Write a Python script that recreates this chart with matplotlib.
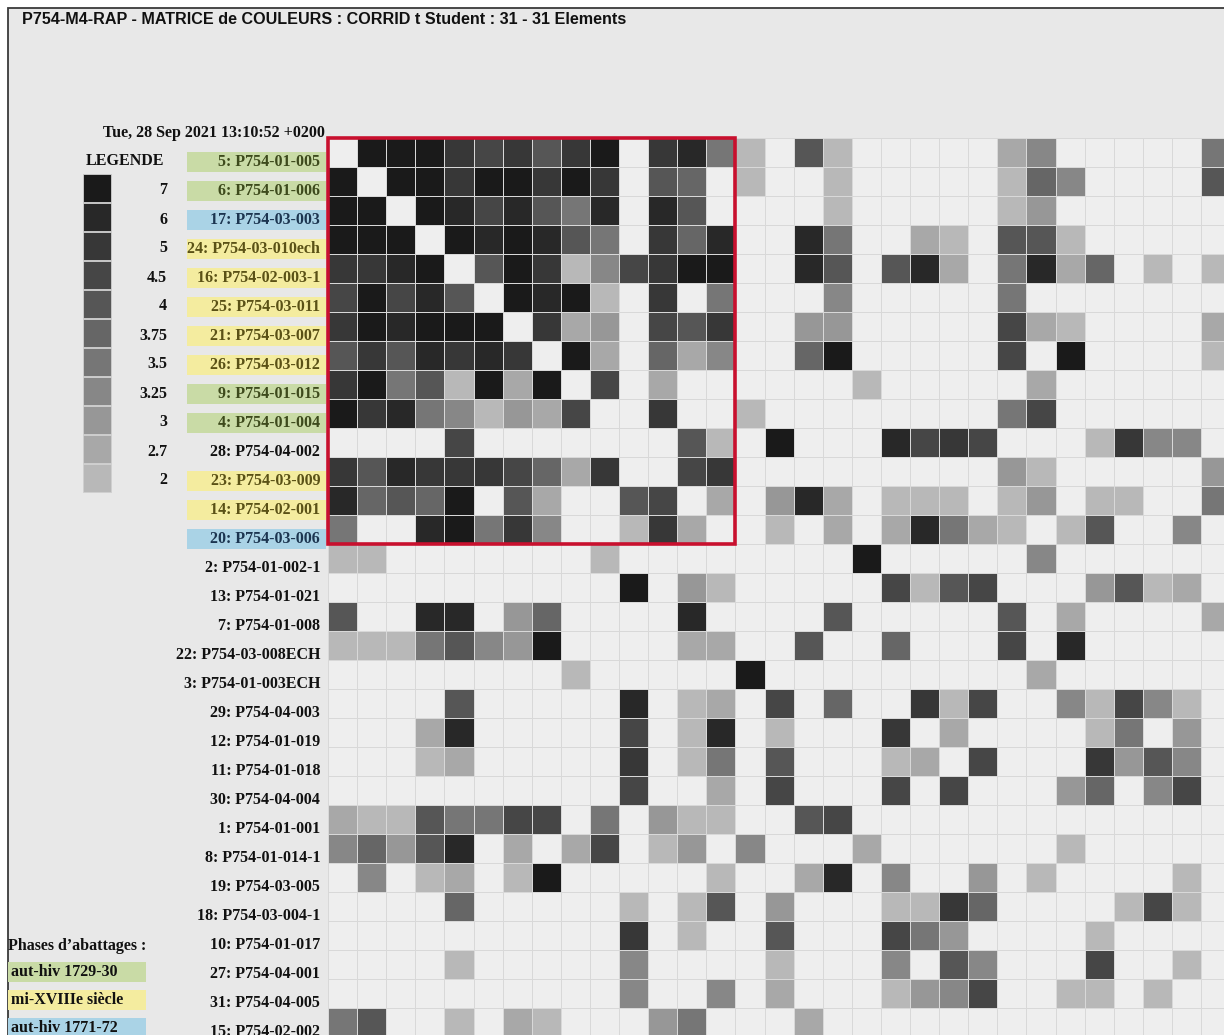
import numpy as np
import matplotlib.pyplot as plt
from matplotlib.colors import ListedColormap
from matplotlib.patches import Rectangle

W, H = 1224, 1035

title = "P754-M4-RAP - MATRICE de COULEURS : CORRID t Student : 31 - 31 Elements"
date_txt = "Tue, 28 Sep 2021 13:10:52 +0200"

row_labels = ["5: P754-01-005", "6: P754-01-006", "17: P754-03-003",
              "24: P754-03-010ech", "16: P754-02-003-1", "25: P754-03-011",
              "21: P754-03-007", "26: P754-03-012", "9: P754-01-015",
              "4: P754-01-004", "28: P754-04-002", "23: P754-03-009",
              "14: P754-02-001", "20: P754-03-006", "2: P754-01-002-1",
              "13: P754-01-021", "7: P754-01-008", "22: P754-03-008ECH",
              "3: P754-01-003ECH", "29: P754-04-003", "12: P754-01-019",
              "11: P754-01-018", "30: P754-04-004", "1: P754-01-001",
              "8: P754-01-014-1", "19: P754-03-005", "18: P754-03-004-1",
              "10: P754-01-017", "27: P754-04-001", "31: P754-04-005",
              "15: P754-02-002"]
# phase of each row: g = aut-hiv 1729-30, y = mi-XVIIIe, b = aut-hiv 1771-72
row_phase = ['g', 'g', 'b', 'y', 'y', 'y', 'y', 'y', 'g', 'g', '', 'y', 'y', 'b',
             '', '', '', '', '', '', '', '', '', '', '', '', '', '', '', '', '']

phase_names = ["aut-hiv 1729-30", "mi-XVIIIe siècle", "aut-hiv 1771-72"]
phase_keys = ['g', 'y', 'b']

# legend levels (top to bottom)
legend_levels = ["7", "6", "5", "4.5", "4", "3.75", "3.5", "3.25", "3", "2.7", "2"]
level_values = [7, 6, 5, 4.5, 4, 3.75, 3.5, 3.25, 3, 2.7, 2]

# t Student class of each cell (0 = empty)
corr_rows = [
    [0, 7, 7, 7, 5, 4.5, 5, 4, 5, 7, 0, 5, 6, 3.5, 2, 0, 4, 2, 0, 0, 0, 0, 0, 2.7, 3.25, 0, 0, 0, 0, 0, 3.5],
    [7, 0, 7, 7, 5, 7, 7, 5, 7, 5, 0, 4, 3.75, 0, 2, 0, 0, 2, 0, 0, 0, 0, 0, 2, 3.75, 3.25, 0, 0, 0, 0, 4],
    [7, 7, 0, 7, 6, 4.5, 6, 4, 3.5, 6, 0, 6, 4, 0, 0, 0, 0, 2, 0, 0, 0, 0, 0, 2, 3, 0, 0, 0, 0, 0, 0],
    [7, 7, 7, 0, 7, 6, 7, 6, 4, 3.5, 0, 5, 3.75, 6, 0, 0, 6, 3.5, 0, 0, 2.7, 2, 0, 4, 4, 2, 0, 0, 0, 0, 0],
    [5, 5, 6, 7, 0, 4, 7, 5, 2, 3.25, 4.5, 5, 7, 7, 0, 0, 6, 4, 0, 4, 6, 2.7, 0, 3.5, 6, 2.7, 3.75, 0, 2, 0, 2],
    [4.5, 7, 4.5, 6, 4, 0, 7, 6, 7, 2, 0, 5, 0, 3.5, 0, 0, 0, 3.25, 0, 0, 0, 0, 0, 3.5, 0, 0, 0, 0, 0, 0, 0],
    [5, 7, 6, 7, 7, 7, 0, 5, 2.7, 3, 0, 4.5, 4, 5, 0, 0, 3, 3, 0, 0, 0, 0, 0, 4.5, 2.7, 2, 0, 0, 0, 0, 2.7],
    [4, 5, 4, 6, 5, 6, 5, 0, 7, 2.7, 0, 3.75, 2.7, 3.25, 0, 0, 3.75, 7, 0, 0, 0, 0, 0, 4.5, 0, 7, 0, 0, 0, 0, 2],
    [5, 7, 3.5, 4, 2, 7, 2.7, 7, 0, 4.5, 0, 2.7, 0, 0, 0, 0, 0, 0, 2, 0, 0, 0, 0, 0, 2.7, 0, 0, 0, 0, 0, 0],
    [7, 5, 6, 3.5, 3.25, 2, 3, 2.7, 4.5, 0, 0, 5, 0, 0, 2, 0, 0, 0, 0, 0, 0, 0, 0, 3.5, 4.5, 0, 0, 0, 0, 0, 0],
    [0, 0, 0, 0, 4.5, 0, 0, 0, 0, 0, 0, 0, 4, 2, 0, 7, 0, 0, 0, 6, 4.5, 5, 4.5, 0, 0, 0, 2, 5, 3.25, 3.25, 0],
    [5, 4, 6, 5, 5, 5, 4.5, 3.75, 2.7, 5, 0, 0, 4.5, 5, 0, 0, 0, 0, 0, 0, 0, 0, 0, 3, 2, 0, 0, 0, 0, 0, 3],
    [6, 3.75, 4, 3.75, 7, 0, 4, 2.7, 0, 0, 4, 4.5, 0, 2.7, 0, 3, 6, 2.7, 0, 2, 2, 2, 0, 2, 3, 0, 2, 2, 0, 0, 3.5],
    [3.5, 0, 0, 6, 7, 3.5, 5, 3.25, 0, 0, 2, 5, 2.7, 0, 0, 2, 0, 2.7, 0, 2.7, 6, 3.5, 2.7, 2, 0, 2, 4, 0, 0, 3.25, 0],
    [2, 2, 0, 0, 0, 0, 0, 0, 0, 2, 0, 0, 0, 0, 0, 0, 0, 0, 7, 0, 0, 0, 0, 0, 3.25, 0, 0, 0, 0, 0, 0],
    [0, 0, 0, 0, 0, 0, 0, 0, 0, 0, 7, 0, 3, 2, 0, 0, 0, 0, 0, 4.5, 2, 4, 4.5, 0, 0, 0, 3, 4, 2, 2.7, 0],
    [4, 0, 0, 6, 6, 0, 3, 3.75, 0, 0, 0, 0, 6, 0, 0, 0, 0, 4, 0, 0, 0, 0, 0, 4, 0, 2.7, 0, 0, 0, 0, 2.7],
    [2, 2, 2, 3.5, 4, 3.25, 3, 7, 0, 0, 0, 0, 2.7, 2.7, 0, 0, 4, 0, 0, 3.75, 0, 0, 0, 4.5, 0, 6, 0, 0, 0, 0, 0],
    [0, 0, 0, 0, 0, 0, 0, 0, 2, 0, 0, 0, 0, 0, 7, 0, 0, 0, 0, 0, 0, 0, 0, 0, 2.7, 0, 0, 0, 0, 0, 0],
    [0, 0, 0, 0, 4, 0, 0, 0, 0, 0, 6, 0, 2, 2.7, 0, 4.5, 0, 3.75, 0, 0, 5, 2, 4.5, 0, 0, 3.25, 2, 4.5, 3.25, 2, 0],
    [0, 0, 0, 2.7, 6, 0, 0, 0, 0, 0, 4.5, 0, 2, 6, 0, 2, 0, 0, 0, 5, 0, 2.7, 0, 0, 0, 0, 2, 3.5, 0, 3, 0],
    [0, 0, 0, 2, 2.7, 0, 0, 0, 0, 0, 5, 0, 2, 3.5, 0, 4, 0, 0, 0, 2, 2.7, 0, 4.5, 0, 0, 0, 5, 3, 4, 3.25, 0],
    [0, 0, 0, 0, 0, 0, 0, 0, 0, 0, 4.5, 0, 0, 2.7, 0, 4.5, 0, 0, 0, 4.5, 0, 4.5, 0, 0, 0, 3, 3.75, 0, 3.25, 4.5, 0],
    [2.7, 2, 2, 4, 3.5, 3.5, 4.5, 4.5, 0, 3.5, 0, 3, 2, 2, 0, 0, 4, 4.5, 0, 0, 0, 0, 0, 0, 0, 0, 0, 0, 0, 0, 0],
    [3.25, 3.75, 3, 4, 6, 0, 2.7, 0, 2.7, 4.5, 0, 2, 3, 0, 3.25, 0, 0, 0, 2.7, 0, 0, 0, 0, 0, 0, 2, 0, 0, 0, 0, 0],
    [0, 3.25, 0, 2, 2.7, 0, 2, 7, 0, 0, 0, 0, 0, 2, 0, 0, 2.7, 6, 0, 3.25, 0, 0, 3, 0, 2, 0, 0, 0, 0, 2, 0],
    [0, 0, 0, 0, 3.75, 0, 0, 0, 0, 0, 2, 0, 2, 4, 0, 3, 0, 0, 0, 2, 2, 5, 3.75, 0, 0, 0, 0, 2, 4.5, 2, 0],
    [0, 0, 0, 0, 0, 0, 0, 0, 0, 0, 5, 0, 2, 0, 0, 4, 0, 0, 0, 4.5, 3.5, 3, 0, 0, 0, 0, 2, 0, 0, 0, 0],
    [0, 0, 0, 0, 2, 0, 0, 0, 0, 0, 3.25, 0, 0, 0, 0, 2, 0, 0, 0, 3.25, 0, 4, 3.25, 0, 0, 0, 4.5, 0, 0, 2, 0],
    [0, 0, 0, 0, 0, 0, 0, 0, 0, 0, 3.25, 0, 0, 3.25, 0, 2.7, 0, 0, 0, 2, 3, 3.25, 4.5, 0, 0, 2, 2, 0, 2, 0, 0],
    [3.5, 4, 0, 0, 2, 0, 2.7, 2, 0, 0, 0, 3, 3.5, 0, 0, 0, 2.7, 0, 0, 0, 0, 0, 0, 0, 0, 0, 0, 0, 0, 0, 0],
]

# styles
empty_col = '#eeeeee'
level_colors = ['#1a1a1a', '#282828', '#373737', '#464646', '#565656', '#666666',
                '#767676', '#878787', '#979797', '#a8a8a8', '#b8b8b8']
phase_bg = {'g': '#c9dba6', 'y': '#f4ec9f', 'b': '#aad3e6'}
phase_fg = {'g': '#3d4a1c', 'y': '#5a5116', 'b': '#1c3550', '': '#111111'}
serif = 'Liberation Serif'
CW, CH = 29.1, 29.0   # cell size in px
X0, Y0 = 328, 138     # matrix top-left in px


def main():
    fig = plt.figure(figsize=(W / 100, H / 100), dpi=100)
    fig.patch.set_facecolor('white')

    # background / overlay axes in pixel coordinates
    bg = fig.add_axes([0, 0, 1, 1], zorder=0)
    bg.set_xlim(0, W)
    bg.set_ylim(H, 0)
    bg.axis('off')
    bg.add_patch(Rectangle((8, 8), W + 20, H + 20, facecolor='#e8e8e8',
                           edgecolor='#3a3a3a', lw=1.3))
    bg.text(22, 19, title, fontfamily='Liberation Sans', fontweight='bold',
            fontsize=11.65, va='center', ha='left', color='#111111')

    # legend of levels
    bg.text(125, 161, "LEGENDE", fontfamily=serif, fontweight='bold',
            fontsize=11.5, ha='center', va='center', color='#111111')
    for k, (lab, col) in enumerate(zip(legend_levels, level_colors)):
        top = 174 + k * CH
        bg.bar(97, CH - 1, width=28, bottom=top, color=col,
               edgecolor='#cfcfcf', linewidth=0.6)
        bg.text(167, top + CH / 2 + 2, lab, fontfamily=serif, fontweight='bold',
                fontsize=11.5, ha='right', va='center', color='#111111')

    # phases legend
    bg.text(8, 946, "Phases d\u2019abattages :", fontfamily=serif,
            fontweight='bold', fontsize=11.5, ha='left', va='center',
            color='#111111')
    for k, (name, key) in enumerate(zip(phase_names, phase_keys)):
        top = 962 + k * 28
        bg.add_patch(Rectangle((8, top), 138, 20, facecolor=phase_bg[key],
                               edgecolor='none'))
        bg.text(11, top + 10, name, fontfamily=serif, fontweight='bold',
                fontsize=11.5, ha='left', va='center', color='#111111')

    # matrix axes
    n = len(row_labels)
    ax = fig.add_axes([X0 / W, 1 - (Y0 + n * CH) / H, n * CW / W, n * CH / H],
                      zorder=1)
    values = np.array(corr_rows, dtype=float)
    idx = np.zeros(values.shape, dtype=int)
    for k, v in enumerate(level_values):
        idx[np.isclose(values, v)] = k + 1
    cmap = ListedColormap([empty_col] + level_colors)
    ax.pcolormesh(np.arange(n + 1), np.arange(n + 1), idx, cmap=cmap,
                  vmin=-0.5, vmax=len(level_values) + 0.5,
                  edgecolors='#d8d8d8', linewidth=0.7)
    ax.set_xlim(0, n)
    ax.set_ylim(n, 0)
    ax.axis('off')

    # red frame around the first group
    ax.add_patch(Rectangle((0, 0), 14, 14, fill=False, edgecolor='#c8102e',
                           lw=2.6, clip_on=False, zorder=5))

    ax.text(-0.1, -0.17, date_txt, fontfamily=serif, fontweight='bold',
            fontsize=11.5, ha='right', va='center', color='#111111',
            clip_on=False)

    # row labels (shifted down like in the original)
    box_x = (187 - X0) / CW
    box_w = (326 - 187) / CW
    for i, (lab, ph) in enumerate(zip(row_labels, row_phase)):
        if ph:
            ax.add_patch(Rectangle((box_x, i + 0.47), box_w, 20 / CH,
                                   facecolor=phase_bg[ph], edgecolor='none',
                                   clip_on=False))
        ax.text(-0.27, i + 0.82, lab, fontfamily=serif, fontweight='bold',
                fontsize=11.5, ha='right', va='center', color=phase_fg[ph],
                clip_on=False)

    fig.savefig('out.png', dpi=100, facecolor=fig.get_facecolor())


if __name__ == '__main__':
    main()
